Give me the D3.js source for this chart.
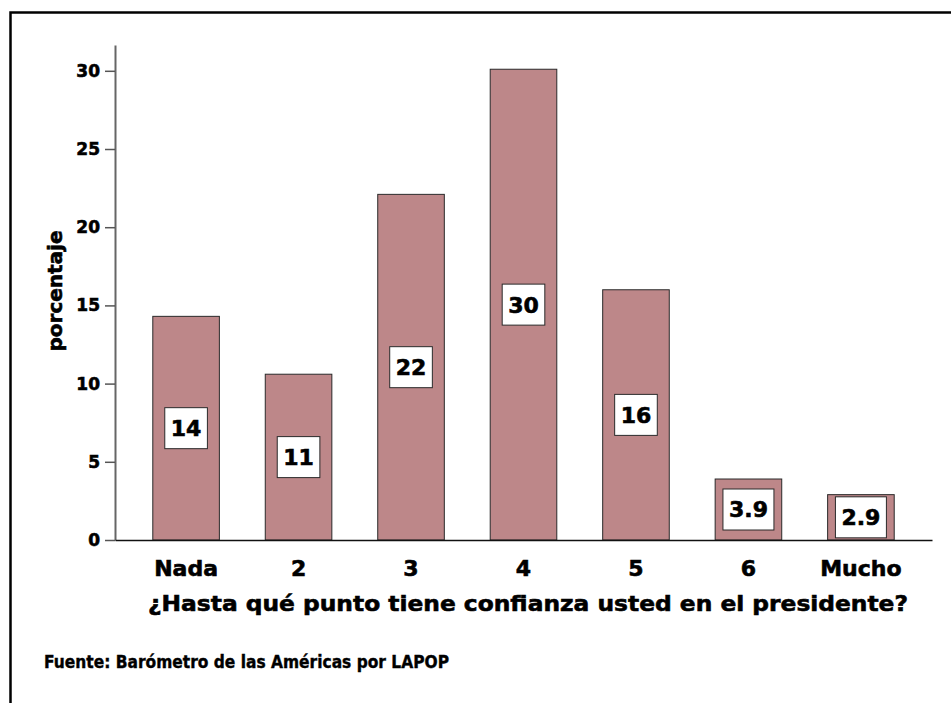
<!DOCTYPE html>
<html>
<head>
<meta charset="utf-8">
<script src="https://cdn.jsdelivr.net/npm/d3@7"></script>
<style>
  body { margin: 0; background: #fff; }
  svg { display: block; font-family: "DejaVu Sans", sans-serif; font-weight: bold; }
  text.heavy { stroke: #000; stroke-width: 0.6px; }
</style>
</head>
<body>
<svg width="951" height="703"></svg>
<script>
const categories = ["Nada", "2", "3", "4", "5", "6", "Mucho"];
const values = [14.3, 10.6, 22.1, 30.1, 16.0, 3.9, 2.9];
const valueLabels = ["14", "11", "22", "30", "16", "3.9", "2.9"];
const yTicks = [0, 5, 10, 15, 20, 25, 30];

const svg = d3.select("svg");

// outer frame (right and bottom edges fall outside the window)
svg.append("rect")
    .attr("x", 10.5).attr("y", 12.5)
    .attr("width", 1000).attr("height", 800)
    .attr("fill", "none")
    .attr("stroke", "#000")
    .attr("stroke-width", 2.5);

const x = d3.scaleBand()
    .domain(categories)
    .range([115, 932])
    .paddingInner(0.408)
    .paddingOuter(0.336);

const y = d3.scaleLinear()
    .domain([0, 31.65])
    .range([540, 45]);

// bars
svg.selectAll("rect.bar")
    .data(values)
    .join("rect")
    .attr("class", "bar")
    .attr("x", (d, i) => x(categories[i]))
    .attr("y", d => y(d))
    .attr("width", x.bandwidth())
    .attr("height", d => y(0) - y(d))
    .attr("fill", "#bd8789")
    .attr("stroke", "#2a2a2a")
    .attr("stroke-width", 1);

// y axis
const yAxis = svg.append("g")
    .attr("transform", "translate(115,0)")
    .call(d3.axisLeft(y).tickValues(yTicks).tickSize(10).tickPadding(5).tickSizeOuter(0));
yAxis.select(".domain").attr("stroke", "#666").attr("stroke-width", 2);
yAxis.selectAll(".tick line").attr("stroke", "#555").attr("stroke-width", 1.5);
yAxis.selectAll(".tick text")
    .attr("class", "heavy")
    .attr("fill", "#000")
    .style("font-size", "17px")
    .style("font-weight", "bold")
    .style("font-family", "DejaVu Sans, sans-serif");

// x axis
const xAxis = svg.append("g")
    .attr("transform", "translate(0,540)")
    .call(d3.axisBottom(x).tickSize(0).tickPadding(20));
xAxis.select(".domain").attr("stroke", "#111").attr("stroke-width", 1.5);
xAxis.selectAll(".tick text")
    .attr("class", "heavy")
    .attr("fill", "#000")
    .style("font-size", "22px")
    .style("font-weight", "bold")
    .style("font-family", "DejaVu Sans, sans-serif");

// value labels in white boxes
const lab = svg.selectAll("g.vlab")
    .data(values)
    .join("g")
    .attr("class", "vlab")
    .attr("transform", (d, i) => `translate(${x(categories[i]) + x.bandwidth() / 2},${y(d / 2)})`);

lab.append("rect").attr("fill", "#fff").attr("stroke", "#2a2a2a").attr("stroke-width", 1);
lab.append("text")
    .attr("class", "heavy")
    .attr("text-anchor", "middle")
    .attr("dy", "0.36em")
    .style("font-size", "22px")
    .text((d, i) => valueLabels[i]);
lab.each(function() {
    const g = d3.select(this);
    const w = g.select("text").node().getComputedTextLength() + 12;
    g.select("rect")
        .attr("x", -w / 2).attr("y", -20.5)
        .attr("width", w).attr("height", 41);
});

// axis titles
svg.append("text")
    .attr("class", "heavy")
    .attr("transform", "translate(62,291) rotate(-90)")
    .attr("text-anchor", "middle")
    .style("font-size", "20px")
    .text("porcentaje");

svg.append("text")
    .attr("class", "heavy")
    .attr("x", 148).attr("y", 611)
    .attr("textLength", 760)
    .attr("lengthAdjust", "spacingAndGlyphs")
    .style("font-size", "22px")
    .text("¿Hasta qué punto tiene confianza usted en el presidente?");

svg.append("text")
    .attr("class", "heavy")
    .attr("x", 44).attr("y", 668)
    .attr("textLength", 405)
    .attr("lengthAdjust", "spacingAndGlyphs")
    .style("font-size", "17px")
    .style("stroke-width", "0.4px")
    .text("Fuente: Barómetro de las Américas por LAPOP");
</script>
</body>
</html>
